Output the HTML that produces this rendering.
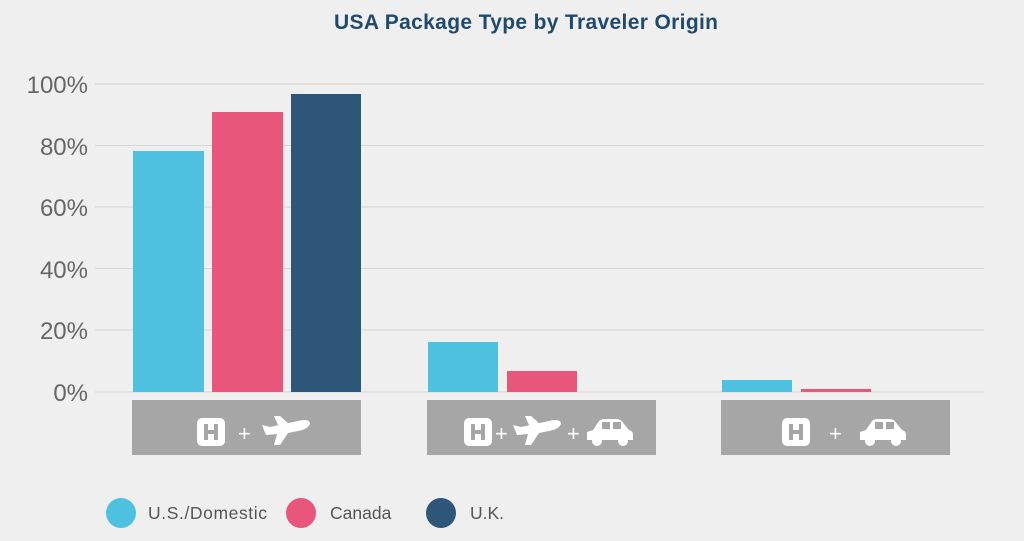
<!DOCTYPE html>
<html><head><style>
body{margin:0;background:#efefef;}
</style></head><body>
<svg width="1024" height="541" xmlns="http://www.w3.org/2000/svg" style="display:block;font-family:'Liberation Sans',sans-serif">
<rect width="1024" height="541" fill="#efefef"/>
<text x="526" y="29" text-anchor="middle" font-size="21" font-weight="bold" fill="#1e4a70" textLength="384">USA Package Type by Traveler Origin</text>
<g stroke="#d6d6d6" stroke-width="1">
<line x1="95" x2="984" y1="84" y2="84"/><line x1="95" x2="984" y1="145.5" y2="145.5"/>
<line x1="95" x2="984" y1="207" y2="207"/><line x1="95" x2="984" y1="268.5" y2="268.5"/>
<line x1="95" x2="984" y1="330" y2="330"/><line x1="95" x2="984" y1="392" y2="392"/>
</g>
<g font-size="24" fill="#666" text-anchor="end">
<text x="88" y="93">100%</text><text x="88" y="155">80%</text><text x="88" y="216">60%</text>
<text x="88" y="278">40%</text><text x="88" y="339">20%</text><text x="88" y="401">0%</text>
</g>
<rect x="133" y="151" width="71" height="241" fill="#4fc1e0"/>
<rect x="212" y="112" width="71" height="280" fill="#e8567c"/>
<rect x="291" y="94" width="70" height="298" fill="#2e5678"/>
<rect x="428" y="342" width="70" height="50" fill="#4fc1e0"/>
<rect x="507" y="371" width="70" height="21" fill="#e8567c"/>
<rect x="722" y="380" width="70" height="12" fill="#4fc1e0"/>
<rect x="801" y="389" width="70" height="3" fill="#e8567c"/>
<g fill="#a6a6a6">
<rect x="132" y="400" width="229" height="55"/><rect x="427" y="400" width="229" height="55"/><rect x="721" y="400" width="229" height="55"/>
</g>
<defs>
<g id="h"><rect x="0" y="0" width="28" height="28" rx="5" fill="#fff"/><rect x="7" y="6" width="4" height="16" fill="#a6a6a6"/><rect x="17" y="6" width="4" height="16" fill="#a6a6a6"/><rect x="7" y="12" width="14" height="4" fill="#a6a6a6"/></g>
<g id="p" fill="#fff"><path d="M0 10 L8 12 L36 6 Q48 3 48 9 Q46 14 36 16 L26 18 L18 30 L12 30 L15 19 L4 20 Z"/><path d="M16 10 L12 1 L18 1 L27 9 Z"/></g>
<g id="c" fill="#fff"><path d="M0 22 L0 14 L6 12 L12 3 Q14 1 18 1 L30 1 Q34 1 37 6 L42 12 Q46 13 46 17 L46 22 Z"/><circle cx="10" cy="23" r="5"/><circle cx="36" cy="23" r="5"/><rect x="15" y="4" width="8" height="7" fill="#a6a6a6"/><rect x="26" y="4" width="8" height="7" fill="#a6a6a6"/></g>
</defs>
<g fill="#fff" font-size="22">
<use href="#h" x="197" y="418"/><text x="238" y="441">+</text><use href="#p" x="262" y="415"/>
<use href="#h" x="464" y="418"/><text x="495" y="441">+</text><use href="#p" x="513" y="415"/><text x="567" y="441">+</text><use href="#c" x="587" y="418"/>
<use href="#h" x="782" y="418"/><text x="829" y="441">+</text><use href="#c" x="860" y="418"/>
</g>
<circle cx="121" cy="513" r="15" fill="#4fc1e0"/><circle cx="301" cy="513" r="15" fill="#e8567c"/><circle cx="441" cy="513" r="15" fill="#2e5678"/>
<g font-size="17.5" fill="#555"><text x="148" y="519" textLength="119">U.S./Domestic</text><text x="330" y="519">Canada</text><text x="470" y="519">U.K.</text></g>
</svg>
</body></html>
